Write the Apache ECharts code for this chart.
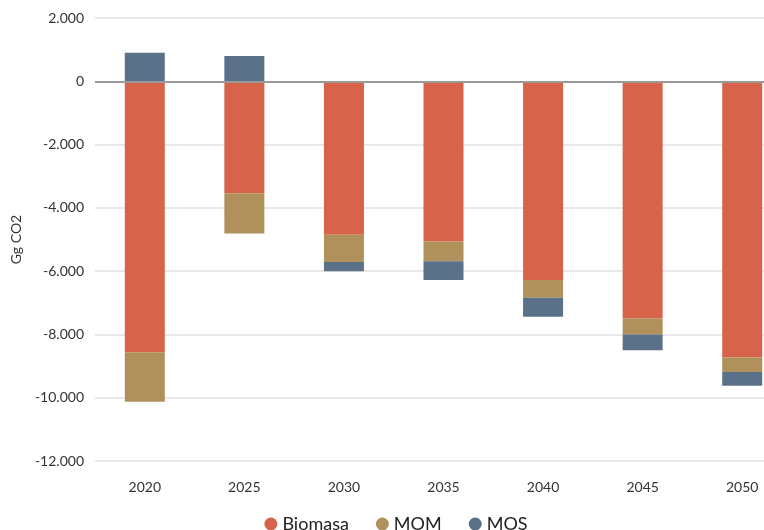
<!DOCTYPE html>
<html>
<head>
<meta charset="utf-8">
<script src="https://cdn.jsdelivr.net/npm/echarts@6/dist/echarts.min.js"></script>
<style>
  html, body { margin: 0; padding: 0; background: #fff; overflow: hidden; }
  /* the source chart is wider than the picture and cropped on the right */
  #chart { width: 792px; height: 530px; }
</style>
</head>
<body>
<div id="chart"></div>
<script>
var years = ['2020', '2025', '2030', '2035', '2040', '2045', '2050'];
var biomasa = [-8560, -3540, -4850, -5060, -6280, -7500, -8720];
var mom = [-1570, -1270, -860, -630, -560, -500, -470];
var mos = [900, 800, -290, -590, -600, -500, -430];

var colors = ['#D6634A', '#B0915C', '#5B7189'];
var font = 'Lato, "DejaVu Sans", sans-serif';

function fmt(v) {
  var s = String(Math.abs(v)).replace(/\B(?=(\d{3})+(?!\d))/g, '.');
  return (v < 0 ? '-' : '') + s;
}

function barSeries(name, data) {
  return {
    name: name,
    type: 'bar',
    stack: 'total',
    barWidth: 40,
    data: data
  };
}

var chart = echarts.init(document.getElementById('chart'));
chart.setOption({
  animation: false,
  color: colors,
  textStyle: { fontFamily: font },
  grid: { left: 95, top: 18, right: 0, bottom: 69 },
  legend: {
    top: 510,
    left: 'center',
    icon: 'circle',
    itemWidth: 13,
    itemHeight: 13,
    itemGap: 27,
    textStyle: { fontSize: 18, color: '#222', fontFamily: font }
  },
  xAxis: {
    type: 'category',
    data: years,
    axisLine: { show: false },
    axisTick: { show: false },
    axisLabel: { color: '#333', fontSize: 14, margin: 19, fontFamily: font }
  },
  yAxis: {
    type: 'value',
    min: -12000,
    max: 2000,
    interval: 2000,
    name: 'Gg CO2',
    nameLocation: 'middle',
    nameGap: 72,
    nameTextStyle: { color: '#333', fontSize: 14, fontFamily: font },
    axisLine: { show: false },
    axisTick: { show: false },
    axisLabel: { color: '#333', fontSize: 14, margin: 11, formatter: fmt, fontFamily: font },
    splitLine: { lineStyle: { width: 2, color: '#e8e8e8' } }
  },
  series: [
    barSeries('Biomasa', biomasa),
    barSeries('MOM', mom),
    barSeries('MOS', mos),
    {
      type: 'line',
      data: [],
      markLine: {
        silent: true,
        symbol: 'none',
        label: { show: false },
        lineStyle: { color: '#9a9a9a', width: 2, type: 'solid' },
        data: [{ yAxis: 0 }]
      }
    }
  ]
});
</script>
</body>
</html>
